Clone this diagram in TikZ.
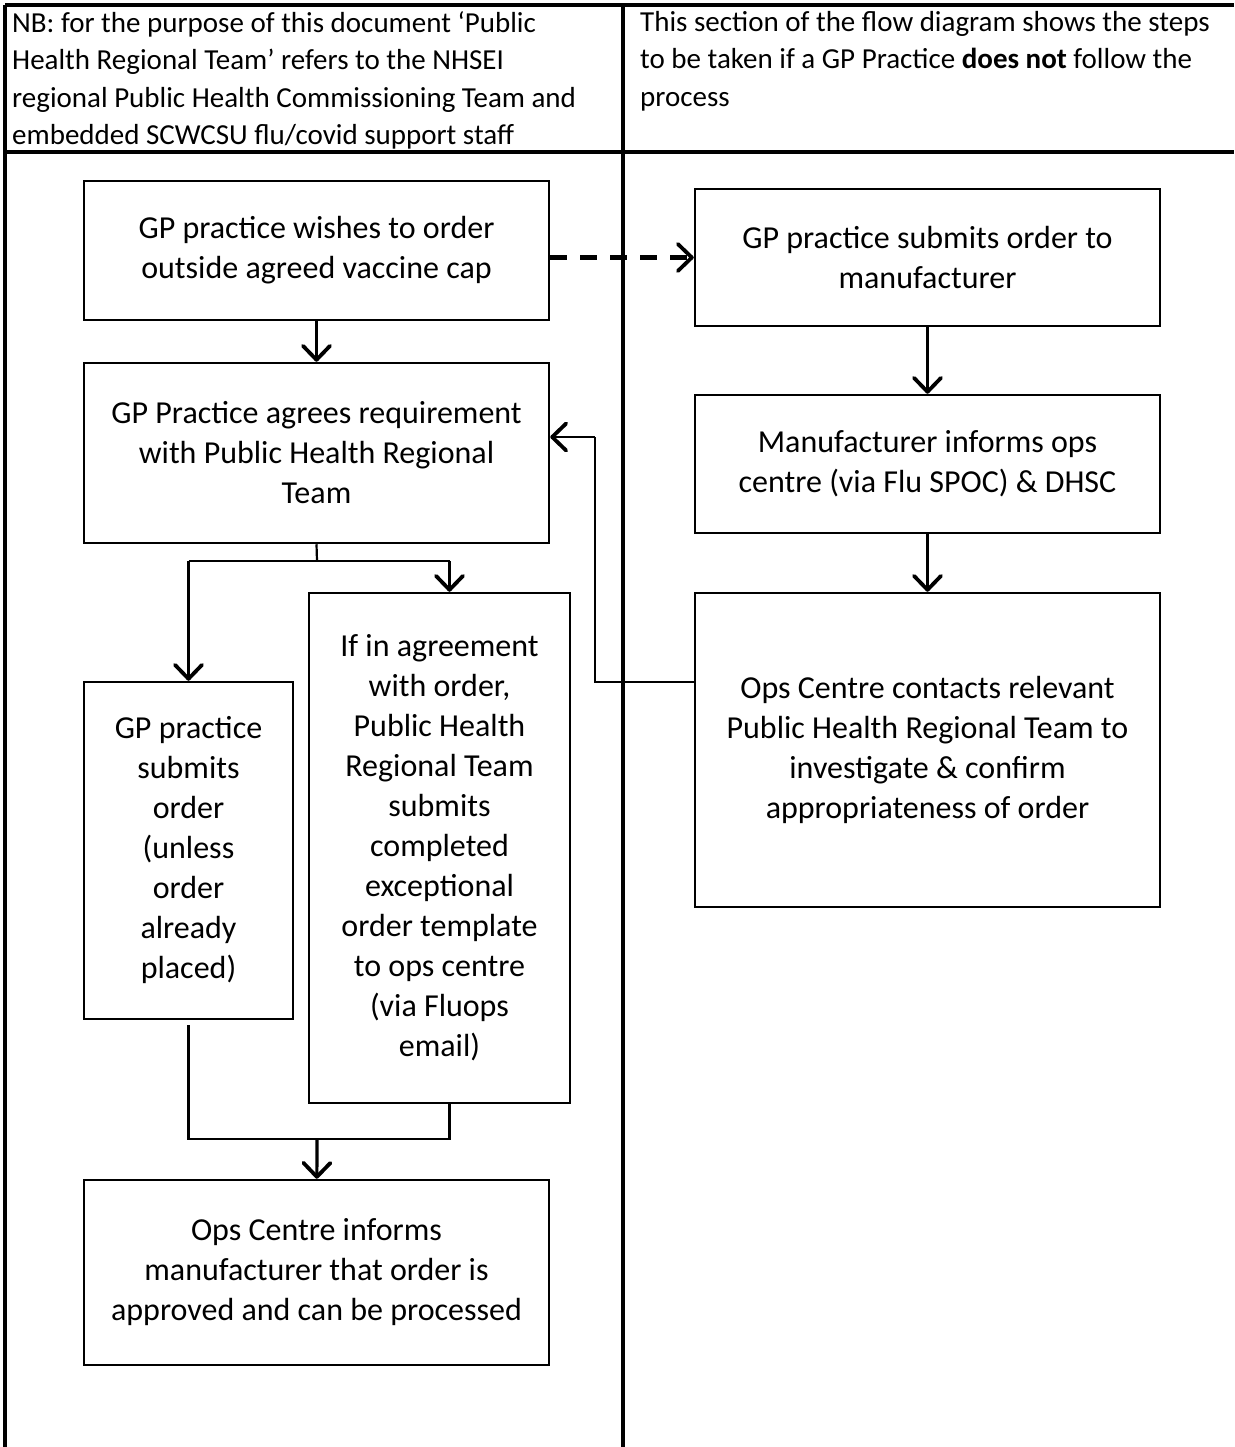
\documentclass[tikz,border=0pt]{standalone}
\usepackage{fontspec}
\setmainfont{Carlito}
\usetikzlibrary{arrows.meta}

\tikzset{
    stepbox/.style={draw, line width=2.5pt, align=center, inner sep=0pt, font=\fontsize{32}{40}\selectfont},
    notetext/.style={anchor=north west, align=left, inner sep=0pt, font=\fontsize{29}{37.5}\selectfont},
    link/.style={line width=2.2pt},
    flow/.style={line width=3.2pt, -{Straight Barb[length=14pt, width=27pt, line width=3.8pt, round]}},
    rule/.style={line width=3.5pt},
}

\begin{document}
\begin{tikzpicture}[x=1pt, y=-1pt]

    \useasboundingbox (0,0) rectangle (1234,1447);

    % table lines
    \draw[rule] (5,5) -- (1234,5);
    \draw[rule] (5,5) -- (5,1447);
    \draw[rule] (623,5) -- (623,1447);
    \draw[rule] (5,152) -- (1234,152);

    \node[notetext] (nbnote) at (12,11) {NB: for the purpose of this document  ‘Public\\Health Regional Team’ refers to the NHSEI\\regional Public Health Commissioning Team and\\embedded SCWCSU flu/covid support staff};
    \node[notetext] (sectnote) at (640,11) {This section of the flow diagram shows the steps\\to be taken if a GP Practice \textbf{does not} follow the\\process};

    % left column
    \node[stepbox, minimum width=465pt, minimum height=139pt] (order) at (316.5,250.5) {GP practice wishes to order\\outside agreed vaccine cap};
    \node[stepbox, minimum width=465pt, minimum height=180pt] (agree) at (316.5,453) {GP Practice agrees requirement\\with Public Health Regional\\Team};
    \node[stepbox, minimum width=209pt, minimum height=337pt] (practice) at (188.5,850.5) {GP practice\\submits\\order\\(unless\\order\\already\\placed)};
    \node[stepbox, minimum width=261pt, minimum height=510pt] (region) at (439.5,848) {If in agreement\\with order,\\Public Health\\Regional Team\\submits\\completed\\exceptional\\order template\\to ops centre\\(via Fluops\\email)};
    \node[stepbox, minimum width=465pt, minimum height=185pt] (approve) at (316.5,1272.5) {Ops Centre informs\\manufacturer that order is\\approved and can be processed};

    % right column
    \node[stepbox, minimum width=465pt, minimum height=137pt] (submit) at (927.5,257.5) {GP practice submits order to\\manufacturer};
    \node[stepbox, minimum width=465pt, minimum height=138pt] (informs) at (927.5,464) {Manufacturer informs ops\\centre (via Flu SPOC) \& DHSC};
    \node[stepbox, minimum width=465pt, minimum height=314pt] (contacts) at (927.5,750) {Ops Centre contacts relevant\\Public Health Regional Team to\\investigate \& confirm\\appropriateness of order};

    \coordinate (back) at (595,682);
    \coordinate (split) at (317,561);
    \coordinate (join) at (317,1139);

    \draw[flow, line width=4pt, dash pattern=on 17pt off 13pt] (order.east |- submit.west) -- (submit.west);
    \draw[flow] (order) -- (agree);
    \draw[flow] (submit) -- (informs);
    \draw[flow] (informs) -- (contacts);

    \draw[link] (contacts.west |- back) -- (back) -- (back |- 0,437);
    \draw[flow, line width=2.8pt] (back |- 0,437) -- (agree.east |- 0,437);

    \draw[link] (agree.south) -- (split);
    \draw[link] (practice.north |- split) -- ([xshift=10pt]region.north |- split);
    \draw[flow] (practice.north |- split) -- (practice.north);
    \draw[flow] ([xshift=10pt]region.north |- split) -- ([xshift=10pt]region.north);

    \draw[link] ([yshift=-5pt]practice.south) |- (join) -| ([xshift=10pt]region.south);
    \draw[flow] (join) -- (approve);

\end{tikzpicture}
\end{document}
